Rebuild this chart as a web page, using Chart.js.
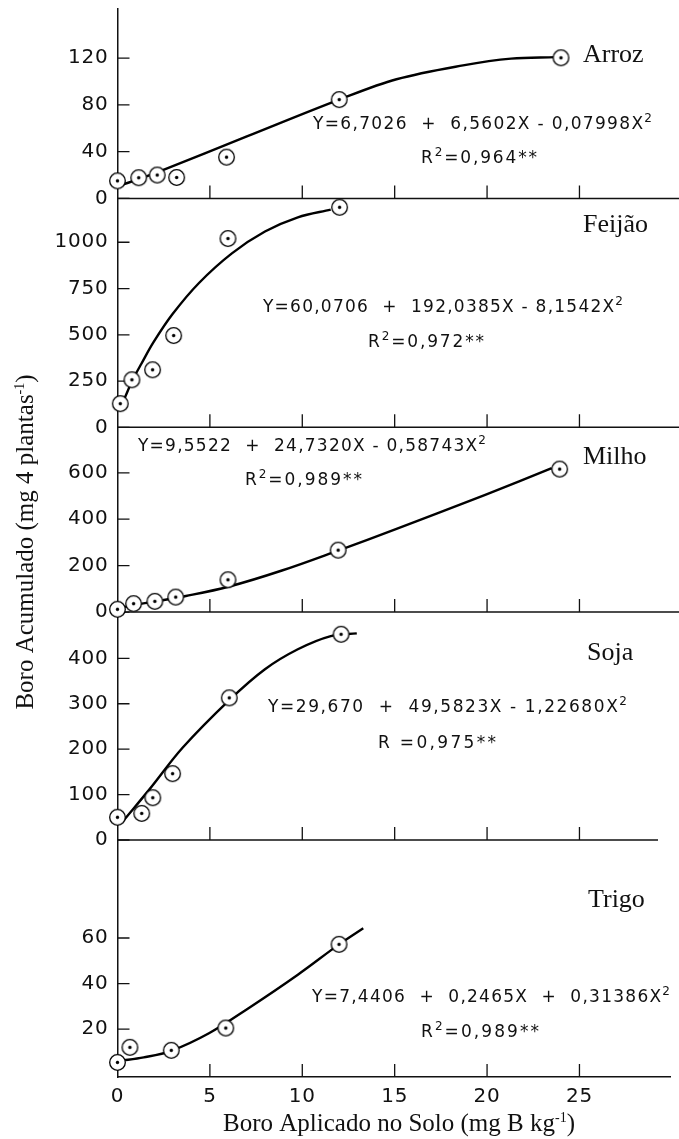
<!DOCTYPE html>
<html>
<head>
<meta charset="utf-8">
<script src="https://cdn.jsdelivr.net/npm/chart.js@4.4.1/dist/chart.umd.min.js"></script>
<style>
  html, body { margin: 0; padding: 0; background: #fff; }
</style>
</head>
<body>
<canvas id="myChart" width="679" height="1139"></canvas>
<script>
// observed points (x = B applied, y = B accumulated)
const arrozX = [0, 1.15, 2.15, 3.2, 5.9, 12, 24];
const arrozY = [15, 17.7, 20, 17.9, 35.3, 84.5, 120.3];
const feijaoX = [0.15, 0.78, 1.9, 3.04, 5.98, 12.02];
const feijaoY = [128, 257, 311, 496, 1020, 1189];
const milhoX = [0, 0.87, 2.02, 3.15, 5.98, 11.94, 23.93];
const milhoY = [12, 36, 46, 64.5, 139, 266.7, 616];
const sojaX = [0, 1.31, 1.91, 2.98, 6.05, 12.1];
const sojaY = [50, 58.5, 93, 146, 313, 453];
const trigoX = [0, 0.67, 2.91, 5.86, 11.99];
const trigoY = [5.4, 12, 10.7, 20.5, 57.2];

// fitted curves
const arrozFitX = [0.2, 1.3, 2.45, 7, 12, 15.1, 18.7, 21.3, 23.7];
const arrozFitY = [11.4, 17.3, 24.2, 53, 84.5, 101.9, 113.8, 119.6, 120.8];
const feijaoFitX = [0.35, 0.85, 1.3, 1.95, 2.98, 4.41, 6.19, 7.98, 9.76, 11.54];
const feijaoFitY = [150, 262, 345, 460, 612, 780, 940, 1058, 1135, 1176];
const milhoFitX = [0.1, 1, 2, 3.7, 6, 8.9, 11.94, 15.1, 17.3, 19.9, 23.5];
const milhoFitY = [17, 32, 45, 69, 109, 179, 265, 358, 425, 505, 620];
const sojaFitX = [0.35, 1.74, 3.52, 6.05, 7.98, 9.76, 11.54, 12.95];
const sojaFitY = [44, 112, 203, 308, 376, 420, 449, 455];
const trigoFitX = [0.13, 1.42, 2.91, 4.95, 7.09, 9.76, 11.99, 13.3];
const trigoFitY = [6.1, 7.6, 10.5, 18.2, 29.2, 43.9, 57.2, 64.3];

// tick labels
const arrozTicks = [0, 40, 80, 120];
const feijaoTicks = [0, 250, 500, 750, 1000];
const milhoTicks = [0, 200, 400, 600];
const sojaTicks = [0, 100, 200, 300, 400];
const trigoTicks = [20, 40, 60];
const doseTicks = [0, 5, 10, 15, 20, 25];

const crops = ["Arroz", "Feijão", "Milho", "Soja", "Trigo"];

// bottom panel first: Chart.js stacks the last left axis on top
const panels = [
  { id: "yTrigo", name: crops[4], x: trigoX, y: trigoY, fx: trigoFitX, fy: trigoFitY, ticks: trigoTicks, min: -1, max: 103, weight: 237.4, lineEnd: 679 },
  { id: "ySoja", name: crops[3], x: sojaX, y: sojaY, fx: sojaFitX, fy: sojaFitY, ticks: sojaTicks, min: 0, max: 502, weight: 228.3, lineEnd: 658 },
  { id: "yMilho", name: crops[2], x: milhoX, y: milhoY, fx: milhoFitX, fy: milhoFitY, ticks: milhoTicks, min: 0, max: 796, weight: 185, lineEnd: 679 },
  { id: "yFeijao", name: crops[1], x: feijaoX, y: feijaoY, fx: feijaoFitX, fy: feijaoFitY, ticks: feijaoTicks, min: 0, max: 1237, weight: 229.3, lineEnd: 679 },
  { id: "yArroz", name: crops[0], x: arrozX, y: arrozY, fx: arrozFitX, fy: arrozFitY, ticks: arrozTicks, min: 0, max: 162, weight: 189.7, lineEnd: 679 },
];

// circle with a dot in the middle
const marker = document.createElement("canvas");
marker.width = 19;
marker.height = 19;
const m = marker.getContext("2d");
m.beginPath();
m.arc(9.5, 9.5, 7.8, 0, Math.PI * 2);
m.fillStyle = "#fff";
m.fill();
m.lineWidth = 1.3;
m.strokeStyle = "#000";
m.stroke();
m.beginPath();
m.arc(9.5, 9.5, 1.7, 0, Math.PI * 2);
m.fillStyle = "#000";
m.fill();

const toXY = (xs, ys) => xs.map((v, i) => ({ x: v, y: ys[i] }));

const datasets = [];
panels.forEach(p => {
  datasets.push({
    type: "line",
    label: p.name + " ajuste",
    data: toXY(p.fx, p.fy),
    yAxisID: p.id,
    borderColor: "#000",
    borderWidth: 2.4,
    pointRadius: 0,
    tension: 0.35,
    clip: false,
    order: 2,
  });
  datasets.push({
    type: "scatter",
    label: p.name,
    data: toXY(p.x, p.y),
    yAxisID: p.id,
    pointStyle: marker,
    pointRadius: 8,
    clip: false,
    order: 1,
  });
});

const sansTick = { family: "'DejaVu Sans', sans-serif", size: 20 };

const scales = {
  x: {
    type: "linear",
    position: "bottom",
    min: 0,
    max: 29.9,
    afterBuildTicks: s => { s.ticks = doseTicks.map(v => ({ value: v })); },
    afterFit: s => { s.height = 62; s.paddingLeft = 0; s.paddingRight = 0; },
    grid: { display: false, drawTicks: false },
    border: { color: "#111", width: 1.5 },
    ticks: { color: "#111", font: sansTick, padding: 8, callback: v => String(v) },
  },
};
panels.forEach(p => {
  scales[p.id] = {
    type: "linear",
    position: "left",
    stack: "crops",
    stackWeight: p.weight,
    min: p.min,
    max: p.max,
    afterBuildTicks: s => { s.ticks = p.ticks.map(v => ({ value: v })); },
    afterFit: s => { s.width = 117.5; s.paddingTop = 0; s.paddingBottom = 0; },
    grid: { display: false, drawTicks: false },
    border: { color: "#111", width: 1.5 },
    ticks: { color: "#111", font: sansTick, padding: 9, callback: v => String(v) },
  };
});

// equations and R2 (parts: [text, superscript?]), placed left x / baseline / width
const eqFont = "17px 'DejaVu Sans', sans-serif";
const supFont = "12px 'DejaVu Sans', sans-serif";
const equations = [
  { parts: [["Y=6,7026  +  6,5602X - 0,07998X", 0], ["2", 1]], x: 313, y: 129, w: 339 },
  { parts: [["R", 0], ["2", 1], ["=0,964**", 0]], x: 421, y: 163, w: 116 },
  { parts: [["Y=60,0706  +  192,0385X - 8,1542X", 0], ["2", 1]], x: 263, y: 311.5, w: 360 },
  { parts: [["R", 0], ["2", 1], ["=0,972**", 0]], x: 368, y: 346.5, w: 116 },
  { parts: [["Y=9,5522  +  24,7320X - 0,58743X", 0], ["2", 1]], x: 138, y: 450.5, w: 348 },
  { parts: [["R", 0], ["2", 1], ["=0,989**", 0]], x: 245, y: 485, w: 117 },
  { parts: [["Y=29,670  +  49,5823X - 1,22680X", 0], ["2", 1]], x: 268, y: 711.5, w: 359 },
  { parts: [["R =0,975**", 0]], x: 378, y: 748, w: 118 },
  { parts: [["Y=7,4406  +  0,2465X  +  0,31386X", 0], ["2", 1]], x: 312, y: 1001.5, w: 358 },
  { parts: [["R", 0], ["2", 1], ["=0,989**", 0]], x: 421, y: 1036.5, w: 118 },
];
const cropLabels = [
  { text: crops[0], x: 583, y: 62 },
  { text: crops[1], x: 583, y: 231.5 },
  { text: crops[2], x: 583, y: 464 },
  { text: crops[3], x: 587, y: 660 },
  { text: crops[4], x: 588, y: 907 },
];

function drawRich(ctx, parts, x, y, w, font, sFont, raise) {
  ctx.letterSpacing = "0px";
  let natural = 0, count = 0;
  parts.forEach(([t, sup]) => {
    ctx.font = sup ? sFont : font;
    natural += ctx.measureText(t).width;
    count += t.length;
  });
  const sp = w ? (w - natural) / Math.max(1, count - 1) : 0;
  let cx = x;
  parts.forEach(([t, sup]) => {
    ctx.font = sup ? sFont : font;
    ctx.letterSpacing = "0px";
    const adv = ctx.measureText(t).width + sp * t.length;
    ctx.letterSpacing = sp + "px";
    ctx.fillText(t, cx, sup ? y - raise : y);
    cx += adv;
  });
  ctx.letterSpacing = "0px";
}

function richWidth(ctx, parts, font, sFont) {
  let wd = 0;
  parts.forEach(([t, sup]) => { ctx.font = sup ? sFont : font; wd += ctx.measureText(t).width; });
  return wd;
}

const decor = {
  id: "decor",
  beforeDraw(chart) {
    chart.ctx.letterSpacing = "0.8px";
  },
  beforeDatasetsDraw(chart) {
    const ctx = chart.ctx;
    const xs = chart.scales.x;
    ctx.save();
    ctx.strokeStyle = "#111";
    panels.forEach(p => {
      const s = chart.scales[p.id];
      // panel separator
      if (p.id !== "yTrigo") {
        ctx.lineWidth = 1.5;
        ctx.beginPath();
        ctx.moveTo(s.right, s.bottom);
        ctx.lineTo(p.lineEnd, s.bottom);
        ctx.stroke();
      }
      // inward tick marks
      ctx.lineWidth = 1.3;
      ctx.beginPath();
      p.ticks.forEach(v => {
        const py = s.getPixelForValue(v);
        ctx.moveTo(s.right, py);
        ctx.lineTo(s.right + 12, py);
      });
      doseTicks.slice(1).forEach(v => {
        const px = xs.getPixelForValue(v);
        ctx.moveTo(px, s.bottom);
        ctx.lineTo(px, s.bottom - 13);
      });
      ctx.stroke();
    });
    ctx.restore();
  },
  afterDraw(chart) {
    const ctx = chart.ctx;
    ctx.save();
    ctx.fillStyle = "#111";
    ctx.textAlign = "left";
    ctx.textBaseline = "alphabetic";
    equations.forEach(e => drawRich(ctx, e.parts, e.x, e.y, e.w, eqFont, supFont, 7));

    ctx.letterSpacing = "0px";
    ctx.font = "26px 'Liberation Serif', 'Times New Roman', serif";
    cropLabels.forEach(l => ctx.fillText(l.text, l.x, l.y));

    // axis titles
    const tFont = "25px 'Liberation Serif', 'Times New Roman', serif";
    const tSup = "14px 'Liberation Serif', 'Times New Roman', serif";
    const xt = [["Boro Aplicado no Solo (mg B kg", 0], ["-1", 1], [")", 0]];
    const xw = richWidth(ctx, xt, tFont, tSup);
    drawRich(ctx, xt, 399 - xw / 2, 1131, 0, tFont, tSup, 9);

    const yt = [["Boro Acumulado (mg 4 plantas", 0], ["-1", 1], [")", 0]];
    const yw = richWidth(ctx, yt, tFont, tSup);
    ctx.translate(33, 542);
    ctx.rotate(-Math.PI / 2);
    drawRich(ctx, yt, -yw / 2, 0, 0, tFont, tSup, 9);
    ctx.restore();
  },
};

const config = {
  type: "scatter",
  data: { datasets: datasets },
  options: {
    responsive: false,
    animation: false,
    layout: { padding: { top: 7, right: 2, left: 0, bottom: 0 } },
    plugins: {
      legend: { display: false },
      tooltip: { enabled: false },
    },
    scales: scales,
  },
  plugins: [decor],
};

const newChart = new Chart("myChart", config);
</script>
</body>
</html>
